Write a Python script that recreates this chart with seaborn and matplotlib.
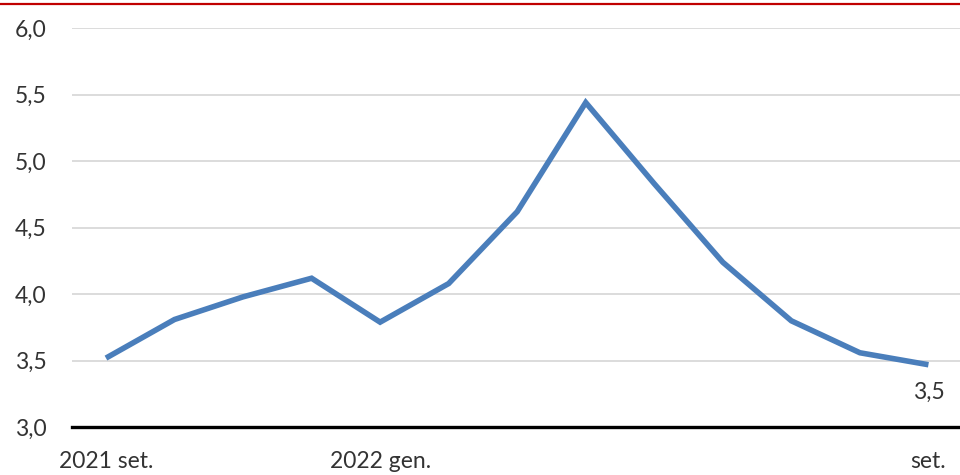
import matplotlib
matplotlib.use("Agg")
import matplotlib.pyplot as plt
import seaborn as sns
import pandas as pd

# Monthly series, Sept 2021 - Sept 2022
months = ["2021 set.", "ott.", "nov.", "dic.", "2022 gen.", "feb.", "mar.",
          "apr.", "mag.", "giu.", "lug.", "ago.", "set."]
values = [3.52, 3.81, 3.98, 4.12, 3.79, 4.08, 4.62, 5.44, 4.83, 4.24, 3.80, 3.56, 3.47]
shown_ticks = ["2021 set.", "2022 gen.", "set."]
y_ticks = [3.0, 3.5, 4.0, 4.5, 5.0, 5.5, 6.0]

df = pd.DataFrame({"mese": months, "valore": values, "pos": range(len(months))})

sns.set_theme(style="white")
plt.rcParams["font.family"] = ["Lato", "DejaVu Sans"]

fig = plt.figure(figsize=(9.6, 4.75), dpi=100)
ax = fig.add_axes([71.7 / 960, (475 - 427.3) / 475, 891 / 960, 399.3 / 475])

sns.lineplot(data=df, x="pos", y="valore", ax=ax, color="#4A7EBB",
             linewidth=4.0, solid_joinstyle="miter", solid_capstyle="butt")

ax.set_xlim(-0.5, len(months) - 0.5)
ax.set_ylim(3.0, 6.0)
ax.set_yticks(y_ticks)
ax.set_yticklabels([f"{v:.1f}".replace(".", ",") for v in y_ticks])
tick_pos = [months.index(m) for m in shown_ticks]
ax.set_xticks(tick_pos)
ax.set_xticklabels(shown_ticks)
ax.set_xlabel("")
ax.set_ylabel("")

ax.grid(axis="y", color="#D9D9D9", linewidth=1.3)
ax.set_axisbelow(True)
for side in ["left", "right", "top"]:
    ax.spines[side].set_visible(False)
ax.spines["bottom"].set_color("black")
ax.spines["bottom"].set_linewidth(2.4)
ax.spines["bottom"].set_zorder(3)

ax.tick_params(axis="y", length=0, pad=18, labelsize=16.5, labelcolor="#333333")
ax.tick_params(axis="x", length=0, pad=17, labelsize=16.5, labelcolor="#333333")

# Value label for the latest month
last = len(values) - 1
ax.annotate(f"{values[last]:.1f}".replace(".", ","), xy=(last, values[last]),
            xytext=(0, -28), textcoords="offset pixels",
            ha="center", va="center", fontsize=16.5, color="#333333")

# Red rule across the top
fig.add_artist(plt.Line2D([0, 1], [1 - 3.5 / 475, 1 - 3.5 / 475],
                          transform=fig.transFigure, color="#C00000", linewidth=1.6))

fig.savefig("out.png", dpi=100)
